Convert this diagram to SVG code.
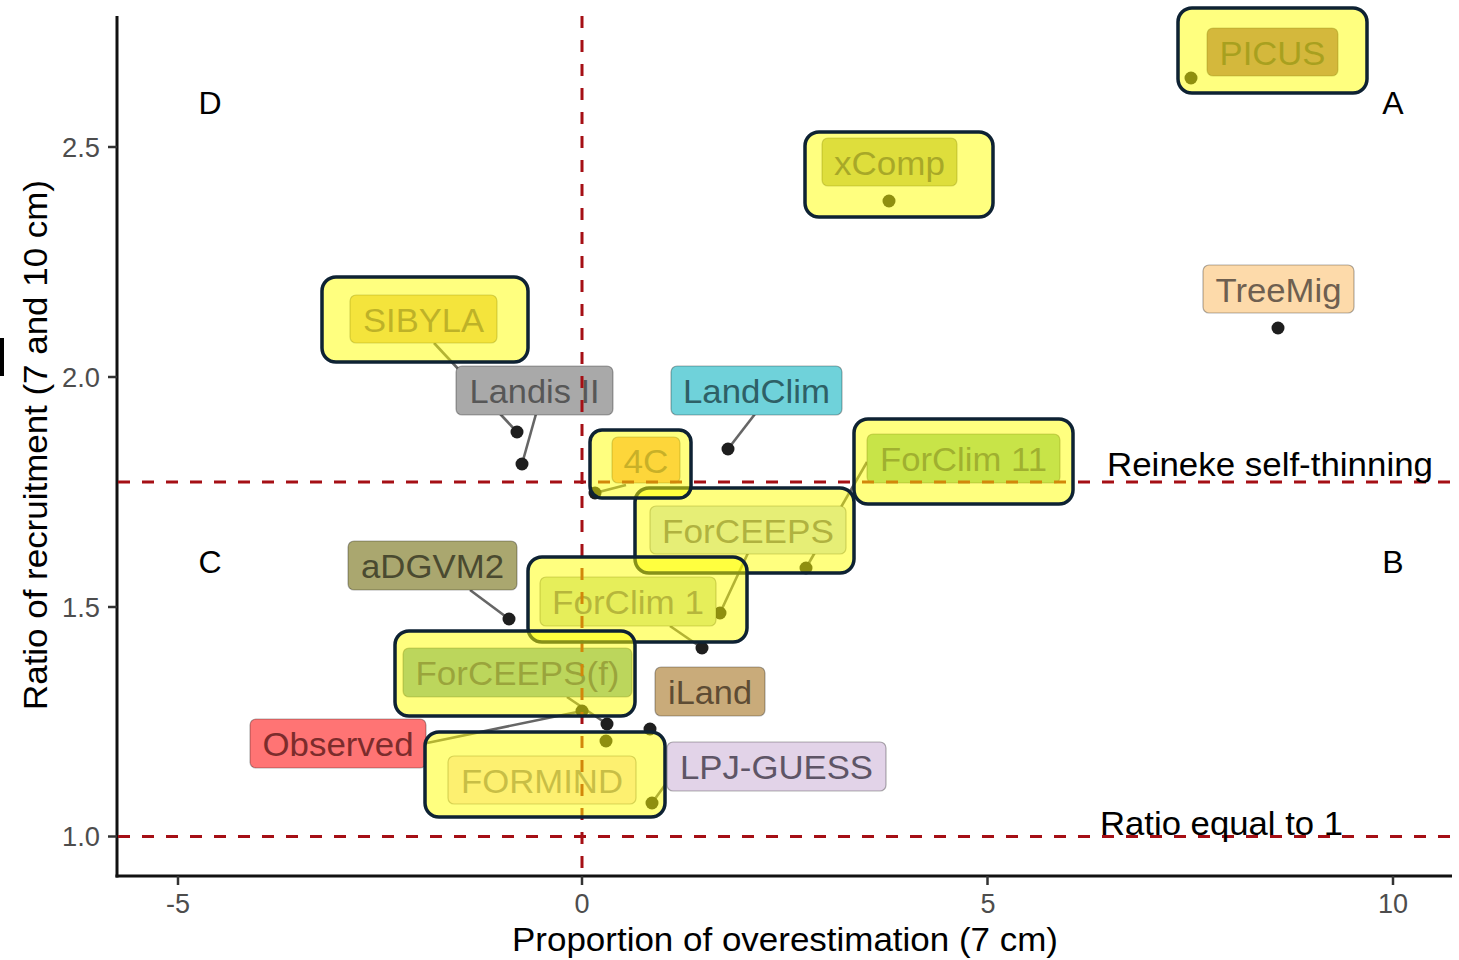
<svg xmlns="http://www.w3.org/2000/svg" width="1459" height="960" viewBox="0 0 1459 960">
<style>
text{font-family:"Liberation Sans",Arial,sans-serif}
.ax{stroke:#111;stroke-width:3;fill:none}
.tk{stroke:#333;stroke-width:2.5}
.tl{font-size:27px;fill:#4d4d4d}
.ttl{font-size:33px;fill:#000}
.quad{font-size:32px;fill:#000}
.ann{font-size:33px;fill:#000}
.ref{stroke:#a50f15;stroke-width:3;stroke-dasharray:12 12;fill:none}
.seg{stroke:#666;stroke-width:2.6;fill:none}
.pt{fill:#1e1e1e}
.lab{stroke:#000;stroke-opacity:0.3;stroke-width:1.2}
.lt{font-size:34px;text-anchor:middle}
.hl{fill:#ffff00;fill-opacity:0.5;stroke:#0e2233;stroke-width:3.5}
</style>
<rect width="1459" height="960" fill="#fff"/>
<rect x="0" y="338" width="4" height="38" fill="#000"/>

<!-- axes -->
<g id="axes">
<line class="ax" x1="117" y1="16" x2="117" y2="877.5"/>
<line class="ax" x1="115.5" y1="876" x2="1452" y2="876"/>
<line class="tk" x1="108" y1="147" x2="117" y2="147"/>
<line class="tk" x1="108" y1="377" x2="117" y2="377"/>
<line class="tk" x1="108" y1="607" x2="117" y2="607"/>
<line class="tk" x1="108" y1="836.5" x2="117" y2="836.5"/>
<line class="tk" x1="178" y1="876" x2="178" y2="885"/>
<line class="tk" x1="582" y1="876" x2="582" y2="885"/>
<line class="tk" x1="987.5" y1="876" x2="987.5" y2="885"/>
<line class="tk" x1="1393" y1="876" x2="1393" y2="885"/>
<text class="tl" x="100" y="157" text-anchor="end" textLength="38" lengthAdjust="spacingAndGlyphs">2.5</text>
<text class="tl" x="100" y="387" text-anchor="end" textLength="38" lengthAdjust="spacingAndGlyphs">2.0</text>
<text class="tl" x="100" y="617" text-anchor="end" textLength="38" lengthAdjust="spacingAndGlyphs">1.5</text>
<text class="tl" x="100" y="846" text-anchor="end" textLength="38" lengthAdjust="spacingAndGlyphs">1.0</text>
<text class="tl" x="178" y="913" text-anchor="middle">-5</text>
<text class="tl" x="582" y="913" text-anchor="middle">0</text>
<text class="tl" x="988" y="913" text-anchor="middle">5</text>
<text class="tl" x="1393" y="913" text-anchor="middle">10</text>
<text class="ttl" x="785" y="951" text-anchor="middle" textLength="546" lengthAdjust="spacingAndGlyphs">Proportion of overestimation (7 cm)</text>
<text class="ttl" transform="translate(47,445) rotate(-90)" text-anchor="middle" font-size="35" textLength="530" lengthAdjust="spacingAndGlyphs">Ratio of recruitment (7 and 10 cm)</text>
</g>

<!-- connectors -->
<g id="connectors">
<line class="seg" x1="434" y1="343" x2="517" y2="432"/>
<line class="seg" x1="536" y1="414" x2="522" y2="464"/>
<line class="seg" x1="755" y1="414" x2="728" y2="449"/>
<line class="seg" x1="626" y1="485" x2="595" y2="493"/>
<line class="seg" x1="867" y1="462" x2="806" y2="568"/>
<line class="seg" x1="748" y1="553" x2="720" y2="613"/>
<line class="seg" x1="670" y1="626" x2="702" y2="648"/>
<line class="seg" x1="470" y1="590" x2="509" y2="619"/>
<line class="seg" x1="567" y1="697" x2="607" y2="724"/>
<line class="seg" x1="427" y1="743" x2="582" y2="711"/>
<line class="seg" x1="665" y1="785" x2="652" y2="803"/>
</g>

<!-- points -->
<g id="points">
<circle class="pt" cx="1191" cy="78" r="6.5"/>
<circle class="pt" cx="889" cy="201" r="6.5"/>
<circle class="pt" cx="1278" cy="328" r="6.5"/>
<circle class="pt" cx="517" cy="432" r="6.5"/>
<circle class="pt" cx="522" cy="464" r="6.5"/>
<circle class="pt" cx="728" cy="449" r="6.5"/>
<circle class="pt" cx="595" cy="493" r="6.5"/>
<circle class="pt" cx="806" cy="568" r="6.5"/>
<circle class="pt" cx="720" cy="613" r="6.5"/>
<circle class="pt" cx="702" cy="648" r="6.5"/>
<circle class="pt" cx="509" cy="619" r="6.5"/>
<circle class="pt" cx="582" cy="711" r="6.5"/>
<circle class="pt" cx="607" cy="724" r="6.5"/>
<circle class="pt" cx="650" cy="729" r="6.5"/>
<circle class="pt" cx="606" cy="741" r="6.5"/>
<circle class="pt" cx="652" cy="803" r="6.5"/>
</g>

<!-- labels -->
<g id="PICUS"><rect class="lab" x="1207" y="28" width="131" height="48" rx="6" fill="#a97178"/><text class="lt" x="1272.5" y="65" fill="#51413f" textLength="106" lengthAdjust="spacingAndGlyphs">PICUS</text></g>
<g id="xComp"><rect class="lab" x="822" y="138" width="135" height="48" rx="6" fill="#bdbd78"/><text class="lt" x="889.5" y="175" fill="#515150" textLength="111" lengthAdjust="spacingAndGlyphs">xComp</text></g>
<g id="TreeMig"><rect class="lab" x="1203" y="265" width="151" height="48" rx="6" fill="#fddaaa"/><text class="lt" x="1278.5" y="302" fill="#6e5f50" textLength="126" lengthAdjust="spacingAndGlyphs">TreeMig</text></g>
<g id="SIBYLA"><rect class="lab" x="350" y="295" width="147" height="48" rx="6" fill="#e9c978"/><text class="lt" x="423.5" y="332" fill="#7d6550" textLength="121" lengthAdjust="spacingAndGlyphs">SIBYLA</text></g>
<g id="LandisII"><rect class="lab" x="456" y="366" width="157" height="49" rx="6" fill="#a9a9a9"/><text class="lt" x="534.5" y="403" fill="#575757" textLength="130" lengthAdjust="spacingAndGlyphs">Landis II</text></g>
<g id="LandClim"><rect class="lab" x="671" y="366" width="171" height="49" rx="6" fill="#6fd2da"/><text class="lt" x="756.5" y="403" fill="#2e6066" textLength="147" lengthAdjust="spacingAndGlyphs">LandClim</text></g>
<g id="n4C"><rect class="lab" x="612" y="437" width="68" height="46" rx="6" fill="#fbad74"/><text class="lt" x="646" y="473" fill="#916150" textLength="45" lengthAdjust="spacingAndGlyphs">4C</text></g>
<g id="ForClim11"><rect class="lab" x="867" y="434" width="193" height="49" rx="6" fill="#91c990"/><text class="lt" x="963.5" y="471" fill="#416160" textLength="167" lengthAdjust="spacingAndGlyphs">ForClim 11</text></g>
<g id="ForCEEPS"><rect class="lab" x="650" y="506" width="196" height="48" rx="6" fill="#cdddec"/><text class="lt" x="748" y="543" fill="#616580" textLength="172" lengthAdjust="spacingAndGlyphs">ForCEEPS</text></g>
<g id="aDGVM2"><rect class="lab" x="348" y="541" width="169" height="49" rx="6" fill="#aaa76f"/><text class="lt" x="432.5" y="578" fill="#4a4a30" textLength="143" lengthAdjust="spacingAndGlyphs">aDGVM2</text></g>
<g id="ForClim1"><rect class="lab" x="540" y="577" width="176" height="49" rx="6" fill="#cdddb4"/><text class="lt" x="628" y="614" fill="#6d6d78" textLength="152" lengthAdjust="spacingAndGlyphs">ForClim 1</text></g>
<g id="ForCEEPSf"><rect class="lab" x="403" y="648" width="229" height="49" rx="6" fill="#79adb8"/><text class="lt" x="517.5" y="685" fill="#354978" textLength="204" lengthAdjust="spacingAndGlyphs">ForCEEPS(f)</text></g>
<g id="iLand"><rect class="lab" x="655" y="667" width="110" height="49" rx="6" fill="#c9ab7a"/><text class="lt" x="710" y="704" fill="#5e4c34" textLength="84" lengthAdjust="spacingAndGlyphs">iLand</text></g>
<g id="Observed"><rect class="lab" x="250" y="719" width="176" height="49" rx="6" fill="#ff7474"/><text class="lt" x="338" y="756" fill="#7c2c2c" textLength="151" lengthAdjust="spacingAndGlyphs">Observed</text></g>
<g id="LPJGUESS"><rect class="lab" x="667" y="742" width="219" height="49" rx="6" fill="#e2d3e8"/><text class="lt" x="776.5" y="779" fill="#5e5566" textLength="193" lengthAdjust="spacingAndGlyphs">LPJ-GUESS</text></g>
<g id="FORMIND"><rect class="lab" x="448" y="756" width="188" height="48" rx="6" fill="#fbe1e0"/><text class="lt" x="542" y="793" fill="#917d8c" textLength="162" lengthAdjust="spacingAndGlyphs">FORMIND</text></g>

<!-- reference lines -->
<g id="reflines">
<line class="ref" x1="582" y1="16" x2="582" y2="876"/>
<line class="ref" x1="118" y1="482" x2="1452" y2="482"/>
<line class="ref" x1="118" y1="836.5" x2="1452" y2="836.5"/>
</g>

<!-- annotations -->
<g id="annotations">
<text class="quad" x="210" y="114" text-anchor="middle">D</text>
<text class="quad" x="1393" y="114" text-anchor="middle">A</text>
<text class="quad" x="210" y="573" text-anchor="middle">C</text>
<text class="quad" x="1393" y="573" text-anchor="middle">B</text>
<text class="ann" x="1107" y="476" textLength="326" lengthAdjust="spacingAndGlyphs">Reineke self-thinning</text>
<text class="ann" x="1100" y="835" textLength="243" lengthAdjust="spacingAndGlyphs">Ratio equal to 1</text>
</g>

<!-- highlight boxes -->
<g id="highlights">
<rect id="hl-PICUS" class="hl" x="1178" y="8" width="189" height="85" rx="14"/>
<rect id="hl-xComp" class="hl" x="805" y="132" width="188" height="85" rx="14"/>
<rect id="hl-SIBYLA" class="hl" x="322" y="277" width="206" height="85" rx="14"/>
<rect id="hl-ForClim11" class="hl" x="854" y="419" width="219" height="85" rx="14"/>
<rect id="hl-ForCEEPS" class="hl" x="635" y="488" width="219" height="85" rx="14"/>
<rect id="hl-4C" class="hl" x="590" y="430" width="101" height="68" rx="12"/>
<rect id="hl-ForClim1" class="hl" x="528" y="557" width="219" height="85" rx="14"/>
<rect id="hl-ForCEEPSf" class="hl" x="395" y="631" width="240" height="85" rx="14"/>
<rect id="hl-FORMIND" class="hl" x="425" y="732" width="240" height="85" rx="14"/>
</g>
</svg>
